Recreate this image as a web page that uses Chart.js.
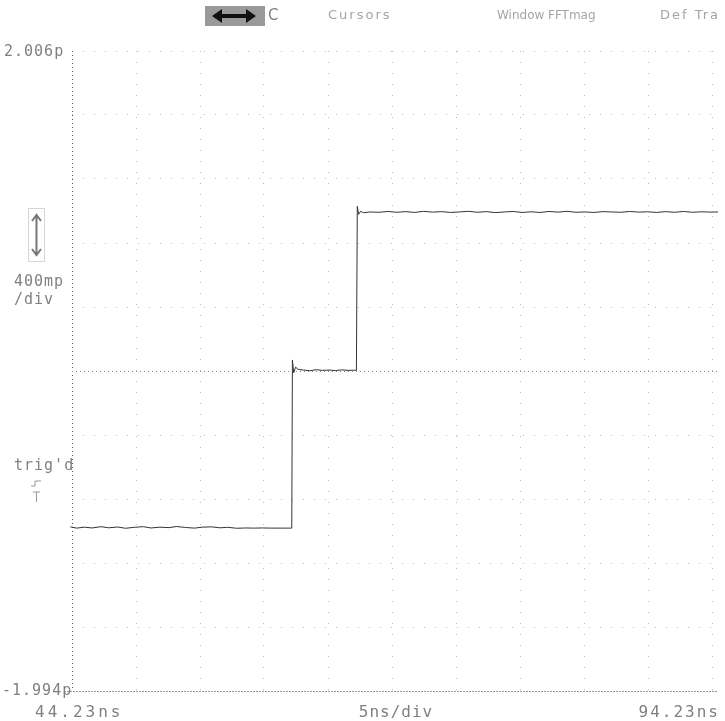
<!DOCTYPE html>
<html>
<head>
<meta charset="utf-8">
<script src="https://cdn.jsdelivr.net/npm/chart.js@4/dist/chart.umd.min.js"></script>
<style>
  html, body { margin: 0; padding: 0; background: #fff; }
  #wrap { position: relative; width: 725px; height: 721px; }
</style>
</head>
<body>
<div id="wrap"><canvas id="scope" width="725" height="721"></canvas></div>
<script>
const timeNs = [
    43.6, 43.75, 44.1, 44.6, 45.2, 45.8, 46.5, 47.1, 47.8, 48.4, 49.1, 49.8, 50.4, 51.1,
    51.8, 52.4, 53.1, 53.8, 54.4, 55.1, 55.8, 56.4, 57.1, 57.8, 58.4, 59.1, 59.8, 60.5,
    61.2, 61.4, 61.45, 61.55, 61.7, 61.9, 62.3, 62.8, 63.3, 63.8, 64.3, 64.8, 65.3, 65.8,
    66.2, 66.45, 66.52, 66.62, 66.78, 67.0, 67.5, 68.2, 68.9, 69.6, 70.3, 71.0, 71.7,
    72.4, 73.1, 73.8, 74.5, 75.2, 75.9, 76.6, 77.3, 78.0, 78.7, 79.4, 80.1, 80.8, 81.5,
    82.2, 82.9, 83.6, 84.3, 85.0, 85.7, 86.4, 87.1, 87.8, 88.5, 89.2, 89.9, 90.6, 91.3,
    92.0, 92.7, 93.4, 94.1, 94.7
];
const traceV = [
    -0.96, -0.972, -0.968, -0.976, -0.97, -0.975, -0.967, -0.974, -0.969, -0.977, -0.971, -0.967, -0.975, -0.97,
    -0.973, -0.966, -0.972, -0.976, -0.97, -0.968, -0.974, -0.971, -0.977, -0.975, -0.976, -0.975, -0.976, -0.976,
    -0.976, -0.976, 0.075, -0.005, 0.03, 0.016, 0.012, 0.008, 0.014, 0.01, 0.012, 0.009, 0.013, 0.01,
    0.011, 0.01, 1.035, 0.985, 1.004, 0.995, 1.0, 0.998, 1.003, 0.998, 1.002, 0.997, 1.004,
    0.999, 1.002, 0.997, 1.0, 1.004, 0.998, 1.002, 0.996, 1.0, 1.003, 0.997, 1.001, 0.997, 1.003,
    0.999, 1.004, 0.998, 1.0, 0.997, 1.002, 1.0, 0.998, 1.003, 0.999, 1.001, 0.997, 1.002, 0.998,
    1.003, 0.998, 1.001, 0.999, 1.0
];

// screen settings
const xMin = 44.23, xMax = 94.23, xPerDiv = 5;
const yMin = -1.994, yMax = 2.006, yPerDiv = 0.4;
const xTickLabels = ['44.23ns', '5ns/div', '94.23ns'];
const yTickLabels = ['2.006p', '-1.994p'];
const sideLabels = ['400mp', '/div', "trig'd"];
const menuLabels = ['C', 'Cursors', 'Window', 'FFTmag', 'Def Tra'];

const divTicks = (min, max, step) => {
    const out = [];
    for (let v = min; v <= max + step / 100; v += step) out.push({ value: +v.toFixed(4) });
    return out;
};

const GRID = '#bdbdbd';
const TEXT = '#808080';

// draws the scope overlays: axis lines, readouts, menu strip
const scopeDecor = {
    id: 'scopeDecor',
    beforeDatasetsDraw(chart) {
        const { ctx, scales: { x, y } } = chart;
        const left = x.getPixelForValue(xMin), right = x.getPixelForValue(xMax);
        const top = y.getPixelForValue(yMax), bottom = y.getPixelForValue(yMin);
        const mid = y.getPixelForValue((yMin + yMax) / 2);
        ctx.save();
        ctx.lineWidth = 1;
        // left axis, dense dots
        ctx.strokeStyle = '#555';
        ctx.setLineDash([1, 3]);
        ctx.beginPath();
        ctx.moveTo(left + 0.5, top);
        ctx.lineTo(left + 0.5, bottom);
        ctx.stroke();
        // center line
        ctx.strokeStyle = '#888';
        ctx.setLineDash([1, 3]);
        ctx.beginPath();
        ctx.moveTo(left, Math.round(mid) + 0.5);
        ctx.lineTo(right + 6, Math.round(mid) + 0.5);
        ctx.stroke();
        // bottom line
        ctx.strokeStyle = '#999';
        ctx.setLineDash([2, 1]);
        ctx.beginPath();
        ctx.moveTo(left - 8, Math.round(bottom) + 0.5);
        ctx.lineTo(right + 6, Math.round(bottom) + 0.5);
        ctx.stroke();
        ctx.restore();
    },
    afterDraw(chart) {
        const { ctx, scales: { x, y } } = chart;
        const left = x.getPixelForValue(xMin), right = x.getPixelForValue(xMax);
        const top = y.getPixelForValue(yMax), bottom = y.getPixelForValue(yMin);
        ctx.save();
        ctx.fillStyle = TEXT;
        ctx.textBaseline = 'middle';

        // amplitude readouts
        ctx.font = '15px "DejaVu Sans Mono"';
        ctx.letterSpacing = '1px';
        ctx.textAlign = 'left';
        ctx.fillText(yTickLabels[0], 4, top + 1);
        ctx.fillText(yTickLabels[1], 2, bottom);
        ctx.fillText(sideLabels[0], 14, 282);
        ctx.fillText(sideLabels[1], 14, 300);
        ctx.fillText(sideLabels[2], 14, 466);

        // time readouts
        ctx.font = '16px "DejaVu Sans Mono"';
        ctx.letterSpacing = '3px';
        ctx.fillText(xTickLabels[0], 35, 713);
        ctx.letterSpacing = '1px';
        ctx.textAlign = 'center';
        ctx.fillText(xTickLabels[1], (left + right) / 2 + 4, 713);
        ctx.letterSpacing = '2px';
        ctx.textAlign = 'right';
        ctx.fillText(xTickLabels[2], 720, 713);

        // menu strip
        ctx.letterSpacing = '0px';
        ctx.textAlign = 'left';
        ctx.fillStyle = '#9a9a9a';
        ctx.fillRect(205, 6, 60, 20);
        ctx.fillStyle = '#111';
        ctx.beginPath();
        ctx.moveTo(212, 16); ctx.lineTo(222, 9); ctx.lineTo(222, 14); ctx.lineTo(246, 14);
        ctx.lineTo(246, 9); ctx.lineTo(256, 16); ctx.lineTo(246, 23); ctx.lineTo(246, 18);
        ctx.lineTo(222, 18); ctx.lineTo(222, 23); ctx.closePath();
        ctx.fill();
        ctx.fillStyle = TEXT;
        ctx.font = '15px "DejaVu Sans"';
        ctx.fillText(menuLabels[0], 268, 16);
        ctx.fillStyle = '#a4a4a4';
        ctx.font = '13px "DejaVu Sans"';
        ctx.letterSpacing = '2px';
        ctx.fillText(menuLabels[1], 328, 16);
        ctx.letterSpacing = '0px';
        ctx.font = '12px "DejaVu Sans"';
        ctx.fillText(menuLabels[2], 497, 16);
        ctx.fillText(menuLabels[3], 548, 16);
        ctx.font = '13px "DejaVu Sans"';
        ctx.letterSpacing = '2px';
        ctx.fillText(menuLabels[4], 660, 16);

        // vertical scale arrow icon
        ctx.letterSpacing = '0px';
        ctx.strokeStyle = '#aaa';
        ctx.lineWidth = 1;
        ctx.setLineDash([1, 1]);
        ctx.strokeRect(28.5, 208.5, 16, 53);
        ctx.setLineDash([]);
        ctx.strokeStyle = '#777';
        ctx.lineWidth = 2;
        ctx.beginPath();
        ctx.moveTo(36.5, 215); ctx.lineTo(36.5, 255);
        ctx.moveTo(32, 221); ctx.lineTo(36.5, 215); ctx.lineTo(41, 221);
        ctx.moveTo(32, 249); ctx.lineTo(36.5, 255); ctx.lineTo(41, 249);
        ctx.stroke();

        // trigger icon
        ctx.lineWidth = 1;
        ctx.strokeStyle = '#999';
        ctx.beginPath();
        ctx.moveTo(31, 486); ctx.lineTo(35, 486); ctx.lineTo(35, 481); ctx.lineTo(41, 481);
        ctx.moveTo(36.5, 492); ctx.lineTo(36.5, 502);
        ctx.moveTo(33, 492); ctx.lineTo(40, 492);
        ctx.stroke();
        ctx.restore();
    }
};

new Chart(document.getElementById('scope'), {
    type: 'line',
    data: {
        datasets: [{
            data: timeNs.map((t, i) => ({ x: t, y: traceV[i] })),
            borderColor: '#333',
            borderWidth: 1,
            pointRadius: 0,
            tension: 0,
            clip: false
        }]
    },
    options: {
        responsive: false,
        animation: false,
        events: [],
        layout: {
            padding: { left: 72, right: 13, top: 51, bottom: 30 }
        },
        plugins: {
            legend: { display: false },
            tooltip: { enabled: false }
        },
        scales: {
            x: {
                type: 'linear',
                min: xMin,
                max: xMax,
                afterBuildTicks: (scale) => { scale.ticks = divTicks(xMin, xMax, xPerDiv); },
                ticks: { display: false },
                grid: {
                    color: (c) => (c.index === 0 ? 'rgba(0,0,0,0)' : GRID),
                    lineWidth: 1,
                    drawTicks: false
                },
                border: { display: false, dash: [1, 10] }
            },
            y: {
                type: 'linear',
                min: yMin,
                max: yMax,
                afterBuildTicks: (scale) => { scale.ticks = divTicks(yMin, yMax, yPerDiv); },
                ticks: { display: false },
                grid: {
                    color: (c) => (c.index === 0 || c.index === 5 ? 'rgba(0,0,0,0)' : GRID),
                    lineWidth: 1,
                    drawTicks: false
                },
                border: { display: false, dash: [1, 10] }
            }
        }
    },
    plugins: [scopeDecor]
});
</script>
</body>
</html>
